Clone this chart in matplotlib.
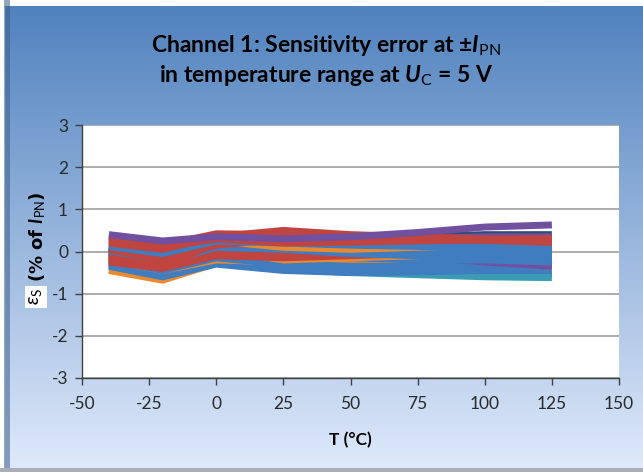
import numpy as np
import matplotlib.pyplot as plt

plt.rcParams['font.family'] = ['Lato', 'DejaVu Sans']
plt.rcParams['axes.unicode_minus'] = False
plt.rcParams['mathtext.fontset'] = 'custom'
plt.rcParams['mathtext.rm'] = 'Lato'
plt.rcParams['mathtext.it'] = 'Lato:italic'
plt.rcParams['mathtext.bf'] = 'Lato:bold'
plt.rcParams['mathtext.bfit'] = 'Lato:bold:italic'

# temperatures (°C) and sensitivity error of each measured sample (% of I_PN)
temps = [-40, -20, 0, 25, 50, 75, 100, 125]

blue_1 = [0.10, -0.10, 0.20, 0.15, 0.10, 0.05, 0.00, -0.05]
blue_2 = [-0.05, -0.30, 0.00, -0.10, -0.15, -0.20, -0.20, -0.25]
blue_3 = [-0.35, -0.60, -0.30, -0.45, -0.50, -0.48, -0.45, -0.45]
blue_4 = [0.00, -0.25, 0.10, 0.05, -0.05, -0.10, -0.15, -0.15]
blue_5 = [-0.20, -0.45, -0.15, -0.30, -0.35, -0.35, -0.30, -0.30]
blue_6 = [0.12, -0.05, 0.25, 0.20, 0.15, 0.12, 0.10, 0.05]
red_1 = [0.30, 0.15, 0.42, 0.40, 0.35, 0.30, 0.28, 0.25]
red_2 = [0.20, 0.05, 0.35, 0.50, 0.40, 0.35, 0.30, 0.30]
red_3 = [-0.15, -0.35, 0.20, 0.15, 0.10, 0.10, 0.15, 0.20]
red_4 = [-0.25, -0.40, -0.10, -0.15, -0.10, -0.05, 0.00, 0.05]
red_5 = [0.05, -0.20, 0.15, 0.30, 0.25, 0.20, 0.18, 0.15]
red_6 = [-0.10, -0.30, -0.05, -0.05, 0.00, 0.05, 0.10, 0.10]
red_7 = [0.25, 0.10, 0.30, 0.20, 0.22, 0.25, 0.28, 0.30]
orange_1 = [-0.45, -0.68, -0.28, -0.38, -0.38, -0.35, -0.32, -0.30]
orange_2 = [-0.10, -0.35, 0.05, -0.20, -0.15, -0.10, -0.05, 0.00]
orange_3 = [0.15, 0.00, 0.25, 0.10, 0.05, 0.10, 0.15, 0.10]
orange_4 = [-0.20, -0.45, -0.20, -0.25, -0.28, -0.25, -0.20, -0.35]
purple_1 = [0.40, 0.25, 0.35, 0.30, 0.35, 0.45, 0.58, 0.63]
purple_2 = [0.35, 0.20, 0.30, 0.25, 0.25, 0.30, 0.35, 0.35]
purple_3 = [-0.05, -0.25, 0.08, 0.05, 0.00, -0.10, -0.25, -0.35]
teal_1 = [-0.30, -0.55, -0.25, -0.42, -0.50, -0.55, -0.60, -0.62]
teal_2 = [-0.25, -0.50, -0.20, -0.35, -0.45, -0.52, -0.55, -0.55]
green_1 = [0.00, -0.20, 0.10, 0.08, 0.05, 0.00, -0.05, -0.10]
green_2 = [-0.15, -0.40, 0.00, 0.00, -0.05, -0.10, -0.10, 0.10]
navy_1 = [0.05, -0.15, 0.22, 0.28, 0.32, 0.35, 0.40, 0.40]
navy_2 = [0.10, -0.10, 0.15, 0.15, 0.20, 0.25, 0.30, 0.30]

BLUE, RED, ORANGE = '#3F7CC0', '#C0443F', '#EA8A2E'
PURPLE, TEAL, GREEN, NAVY = '#70509F', '#3A9CB2', '#8DB04A', '#2C4F78'

series = [
    (teal_1, TEAL), (teal_2, TEAL), (navy_1, NAVY), (navy_2, NAVY),
    (green_1, GREEN), (green_2, GREEN), (orange_1, ORANGE), (blue_3, BLUE),
    (orange_4, ORANGE), (blue_5, BLUE), (purple_3, PURPLE), (blue_2, BLUE),
    (orange_2, ORANGE), (red_4, RED), (red_6, RED), (blue_4, BLUE),
    (red_3, RED), (blue_1, BLUE), (orange_3, ORANGE), (red_5, RED),
    (blue_6, BLUE), (purple_2, PURPLE), (red_7, RED), (red_2, RED),
    (red_1, RED), (purple_1, PURPLE),
]

W, H = 643, 472
fig = plt.figure(figsize=(W / 100, H / 100), dpi=100)

# gradient background
bg = fig.add_axes([0, 0, 1, 1], zorder=-10)
top = np.array([80, 130, 190]) / 255
bot = np.array([224, 234, 251]) / 255
t = np.linspace(0, 1, 400)[:, None]
grad = top + (bot - top) * t
img = np.repeat(grad[:, None, :], 10, axis=1)
bg.imshow(img, aspect='auto', extent=[0, 1, 0, 0.987])
bg.axvspan(0, 0.006, color='white')
bg.axvspan(0.006, 0.016, color='#3A5E8C', alpha=0.55, lw=0)
bg.axhspan(0, 0.008, color='#A9AFB8', lw=0)
bg.set_xlim(0, 1)
bg.set_ylim(0, 1)
bg.axis('off')

ax = fig.add_axes([82 / W, 1 - 378 / H, (619 - 82) / W, (378 - 125) / H])
ax.set_facecolor('white')
for vals, c in series:
    ax.plot(temps, vals, color=c, lw=5, solid_capstyle='butt', solid_joinstyle='round')

ax.set_xlim(-50, 150)
ax.set_ylim(-3, 3)
ax.set_xticks(range(-50, 151, 25))
ax.set_yticks(range(-3, 4))
ax.grid(axis='y', color='#A6A6A6', lw=1.3)
ax.set_axisbelow(True)
for s in ['top', 'right']:
    ax.spines[s].set_visible(False)
for s in ['left', 'bottom']:
    ax.spines[s].set_color('#404040')
    ax.spines[s].set_linewidth(1.0)
ax.tick_params(length=5, width=1, color='#404040', labelsize=12.5, labelcolor='#2a2a2a')
ax.tick_params(axis='x', pad=8)
ax.tick_params(axis='y', pad=5)

fig.text(0.507, 1 - 45 / H, r'Channel 1: Sensitivity error at ±$\mathbfit{I}_{\mathrm{PN}}$',
         ha='center', va='center', fontsize=16.5, fontweight='bold')
fig.text(0.507, 1 - 76 / H, r'in temperature range at $\mathbfit{U}_{\mathrm{C}}$ = 5 V',
         ha='center', va='center', fontsize=16.5, fontweight='bold')
fig.text(350 / W, 1 - 440 / H, 'T (°C)', ha='center', va='center',
         fontsize=12.5, fontweight='bold')
fig.text(36 / W, 1 - 297 / H, r'$\mathit{\varepsilon}_\mathrm{S}$', rotation=90, ha='center', va='center',
         fontsize=14, bbox=dict(facecolor='white', edgecolor='none', pad=1.5))
fig.text(38 / W, 1 - 237 / H, r'(% of $\boldsymbol{I}_{\mathrm{PN}}$)', rotation=90, ha='center', va='center',
         fontsize=13, fontweight='bold', family='DejaVu Sans')

fig.savefig('out.png', dpi=100)
